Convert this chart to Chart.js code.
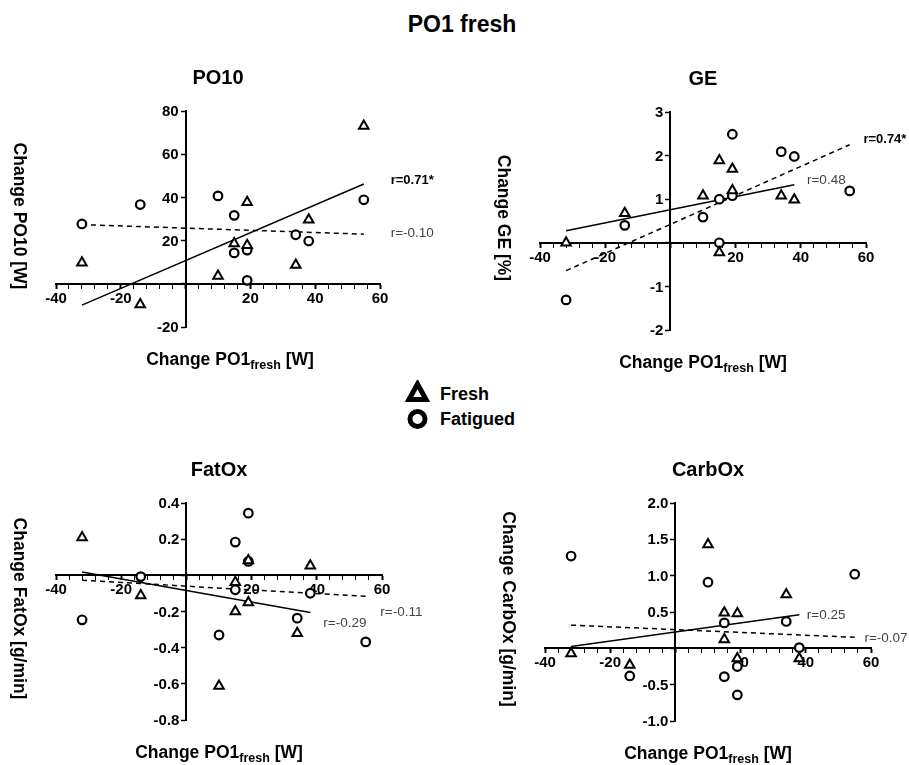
<!DOCTYPE html>
<html lang="en">

<head>
    <meta charset="UTF-8">
    <title>PO1 fresh</title>
    <script src="https://cdn.jsdelivr.net/npm/chart.js@4.4.1/dist/chart.umd.min.js"></script>
    <style>
        body {
            margin: 0;
            background-color: #fff;
            font-family: "Liberation Sans", Arial, sans-serif;
        }

        #page {
            position: relative;
            width: 909px;
            height: 765px;
            overflow: hidden;
        }

        .panel {
            position: absolute;
        }

        #mainTitle {
            position: absolute;
            left: 462px;
            top: 13px;
            transform: translateX(-50%);
            font-size: 23px;
            line-height: 23px;
            font-weight: bold;
            white-space: nowrap;
        }

        .legend-item {
            position: absolute;
            left: 440px;
            font-size: 18px;
            line-height: 18px;
            font-weight: bold;
        }

        #legendMarks {
            position: absolute;
            left: 405px;
            top: 380px;
        }
    </style>
</head>

<body>
    <div id="page">
        <div id="mainTitle">PO1 fresh</div>

        <div class="panel" style="left:0;top:60px;width:450px;height:320px"><canvas id="po10Chart"></canvas></div>
        <div class="panel" style="left:450px;top:60px;width:459px;height:320px"><canvas id="geChart"></canvas></div>
        <div class="panel" style="left:0;top:440px;width:450px;height:325px"><canvas id="fatoxChart"></canvas></div>
        <div class="panel" style="left:450px;top:440px;width:459px;height:325px"><canvas id="carboxChart"></canvas></div>

        <!-- legend -->
        <svg id="legendMarks" width="26" height="52">
            <polygon points="12.5,4 4,19.5 21,19.5" fill="#fff" stroke="#000" stroke-width="5" stroke-linejoin="miter" />
            <circle cx="12.5" cy="39" r="7.5" fill="#fff" stroke="#000" stroke-width="5" />
        </svg>
        <div class="legend-item" style="top:385px">Fresh</div>
        <div class="legend-item" style="top:410px">Fatigued</div>
    </div>

    <script>
        const FONT = "'Liberation Sans', Arial, sans-serif";

        // change in PO1 fresh per subject (x) for each group
        const freshX = [-32, -14, 10, 15, 15, 19, 19, 34, 38];
        const fatiguedX = [-32, -14, 10, 15, 15, 19, 19, 34, 38, 55];
        const po10FreshX = [-32, -14, 10, 15, 19, 19, 34, 38, 55];

        // PO10 [W]
        const po10Fresh = [9.8, -9.6, 3.6, 18.7, 37.8, 17.9, 8.7, 29.6, 73];
        const po10Fatigued = [27.7, 36.7, 40.7, 31.7, 14.3, 15.6, 1.6, 22.7, 19.8, 38.9];

        // GE [%]
        const geFresh = [0.0, 0.68, 1.08, 1.89, -0.22, 1.69, 1.2, 1.08, 0.99];
        const geFatigued = [-1.31, 0.40, 0.59, 1.0, 0.0, 1.08, 2.49, 2.09, 1.98, 1.19];

        // FatOx [g/min]
        const fatoxFresh = [0.209, -0.112, -0.612, -0.038, -0.20, 0.082, -0.15, -0.32, 0.053];
        const fatoxFatigued = [-0.246, -0.007, -0.33, 0.184, -0.08, 0.344, 0.077, -0.237, -0.099, -0.368];

        // CarbOx [g/min]
        const carboxFresh = [-0.07, -0.23, 1.43, 0.49, 0.12, 0.48, -0.14, 0.74, -0.14];
        const carboxFatigued = [1.27, -0.38, 0.91, 0.35, -0.39, -0.25, -0.64, 0.37, 0.01, 1.02];

        const panels = [
            {
                canvas: 'po10Chart', title: 'PO10', yTitle: 'Change PO10 [W]',
                freshX: po10FreshX, freshY: po10Fresh, fatX: fatiguedX, fatY: po10Fatigued,
                y: { min: -20, max: 80, step: 20, digits: 0 },
                padding: { left: 56, right: 70, top: 51, bottom: 53 }, xTitleShift: 12,
                rLabels: [
                    { text: 'r=0.71*', x: 63.3, y: 47.9, bold: true },
                    { text: 'r=-0.10', x: 63.3, y: 23.3, bold: false }
                ]
            },
            {
                canvas: 'geChart', title: 'GE', yTitle: 'Change GE [%]',
                freshX: freshX, freshY: geFresh, fatX: fatiguedX, fatY: geFatigued,
                y: { min: -2, max: 3, step: 1, digits: 0 },
                padding: { left: 90, right: 43, top: 52, bottom: 50 }, xTitleShift: 0,
                rLabels: [
                    { text: 'r=0.74*', x: 59.2, y: 2.36, bold: true },
                    { text: 'r=0.48', x: 41.9, y: 1.44, bold: false }
                ]
            },
            {
                canvas: 'fatoxChart', title: 'FatOx', yTitle: 'Change FatOx [g/min]',
                freshX: freshX, freshY: fatoxFresh, fatX: fatiguedX, fatY: fatoxFatigued,
                y: { min: -0.8, max: 0.4, step: 0.2, digits: 1 },
                padding: { left: 56, right: 68, top: 63, bottom: 45 }, xTitleShift: 0,
                rLabels: [
                    { text: 'r=-0.11', x: 59.5, y: -0.202, bold: false },
                    { text: 'r=-0.29', x: 42.0, y: -0.263, bold: false }
                ]
            },
            {
                canvas: 'carboxChart', title: 'CarbOx', yTitle: 'Change CarbOx [g/min]',
                freshX: freshX, freshY: carboxFresh, fatX: fatiguedX, fatY: carboxFatigued,
                y: { min: -1.0, max: 2.0, step: 0.5, digits: 1 },
                padding: { left: 95, right: 38, top: 63, bottom: 44 }, xTitleShift: 0,
                rLabels: [
                    { text: 'r=0.25', x: 40.3, y: 0.457, bold: false },
                    { text: 'r=-0.07', x: 58.0, y: 0.14, bold: false }
                ]
            }
        ];

        const toPoints = (xs, ys) => xs.map((x, i) => ({ x: x, y: ys[i] }));

        // least-squares line over the group's x range
        const fitLine = (xs, ys) => {
            const n = xs.length;
            const mx = xs.reduce((a, b) => a + b, 0) / n;
            const my = ys.reduce((a, b) => a + b, 0) / n;
            let sxy = 0, sxx = 0;
            xs.forEach((x, i) => { sxy += (x - mx) * (ys[i] - my); sxx += (x - mx) * (x - mx); });
            const slope = sxy / sxx, icpt = my - slope * mx;
            const x0 = Math.min(...xs), x1 = Math.max(...xs);
            return [{ x: x0, y: icpt + slope * x0 }, { x: x1, y: icpt + slope * x1 }];
        };

        const isZero = v => Math.abs(v) < 1e-9;

        // panel title, y tick labels, rotated y title, x title with subscript, r labels
        const panelText = {
            id: 'panelText',
            afterDraw(chart, args, opts) {
                const { ctx, chartArea: a, scales } = chart;
                const cx = (a.left + a.right) / 2;
                ctx.save();
                ctx.fillStyle = '#000';
                ctx.textBaseline = 'middle';
                ctx.textAlign = 'center';
                ctx.font = `bold 20px ${FONT}`;
                ctx.fillText(opts.title, cx, a.top - 33);

                // y tick labels sit left of the crossing axis
                ctx.textAlign = 'right';
                ctx.font = `bold 15px ${FONT}`;
                const axisX = scales.x.getPixelForValue(0);
                scales.y.ticks.forEach(t => {
                    if (isZero(t.value)) return;
                    ctx.fillText(t.value.toFixed(opts.digits), axisX - 7, scales.y.getPixelForValue(t.value) + 1);
                });

                ctx.textAlign = 'center';
                ctx.save();
                ctx.translate(a.left - 37, (a.top + a.bottom) / 2 - 3);
                ctx.rotate(Math.PI / 2);
                ctx.font = `bold 17.5px ${FONT}`;
                ctx.fillText(opts.yTitle, 0, 0);
                ctx.restore();

                const mainFont = `bold 17.5px ${FONT}`, subFont = `bold 12.5px ${FONT}`;
                ctx.textAlign = 'left';
                ctx.textBaseline = 'alphabetic';
                ctx.font = mainFont;
                const w1 = ctx.measureText('Change PO1').width;
                const w3 = ctx.measureText(' [W]').width;
                ctx.font = subFont;
                const w2 = ctx.measureText('fresh').width;
                const x = cx + opts.xTitleShift - (w1 + w2 + w3) / 2;
                const base = a.bottom + 38;
                ctx.font = mainFont;
                ctx.fillText('Change PO1', x, base);
                ctx.font = subFont;
                ctx.fillText('fresh', x + w1, base + 4);
                ctx.font = mainFont;
                ctx.fillText(' [W]', x + w1 + w2, base);

                ctx.textBaseline = 'middle';
                opts.rLabels.forEach(r => {
                    ctx.font = r.bold ? `bold 13px ${FONT}` : `13.5px ${FONT}`;
                    ctx.fillStyle = r.bold ? '#000' : '#444';
                    ctx.fillText(r.text, scales.x.getPixelForValue(r.x), scales.y.getPixelForValue(r.y));
                });
                ctx.restore();
            }
        };

        const axisBase = {
            type: 'linear',
            border: { display: true, color: '#000', width: 2 },
            grid: { drawOnChartArea: false, drawTicks: true, tickLength: 4, tickColor: '#000', tickWidth: 1.5 },
        };

        panels.forEach(p => {
            const ctx = document.getElementById(p.canvas).getContext('2d');
            new Chart(ctx, {
                type: 'scatter',
                data: {
                    datasets: [
                        {
                            label: 'Fresh', data: toPoints(p.freshX, p.freshY),
                            pointStyle: 'triangle', pointRadius: 5.5, borderWidth: 2,
                            borderColor: '#000', backgroundColor: '#fff'
                        },
                        {
                            label: 'Fatigued', data: toPoints(p.fatX, p.fatY),
                            pointStyle: 'circle', pointRadius: 4.3, borderWidth: 2.2,
                            borderColor: '#000', backgroundColor: '#fff'
                        },
                        {
                            label: 'Fresh fit', data: fitLine(p.freshX, p.freshY), showLine: true,
                            pointRadius: 0, borderColor: '#000', borderWidth: 1.5
                        },
                        {
                            label: 'Fatigued fit', data: fitLine(p.fatX, p.fatY), showLine: true,
                            pointRadius: 0, borderColor: '#000', borderWidth: 1.5, borderDash: [5, 4]
                        }
                    ]
                },
                options: {
                    responsive: true,
                    maintainAspectRatio: false,
                    animation: false,
                    clip: false,
                    layout: { padding: p.padding },
                    plugins: {
                        legend: { display: false },
                        tooltip: { enabled: false },
                        panelText: {
                            title: p.title, yTitle: p.yTitle, rLabels: p.rLabels,
                            xTitleShift: p.xTitleShift, digits: p.y.digits
                        }
                    },
                    scales: {
                        x: {
                            ...axisBase,
                            min: -40, max: 60,
                            position: { y: 0 },
                            grid: {
                                ...axisBase.grid,
                                // major ticks every 20 drawn heavier than the minor ones
                                tickWidth: c => (c.tick && c.tick.value % 20 === 0) ? 2 : 1
                            },
                            ticks: {
                                stepSize: 4, autoSkip: false, maxRotation: 0, padding: 2, color: '#000',
                                font: { family: FONT, size: 15, weight: 'bold' },
                                callback: v => (v % 20 === 0 && !isZero(v)) ? String(v) : ''
                            }
                        },
                        y: {
                            ...axisBase,
                            min: p.y.min, max: p.y.max,
                            position: { x: 0 },
                            ticks: { stepSize: p.y.step, autoSkip: false, display: false }
                        }
                    }
                },
                plugins: [panelText]
            });
        });
    </script>
</body>

</html>
